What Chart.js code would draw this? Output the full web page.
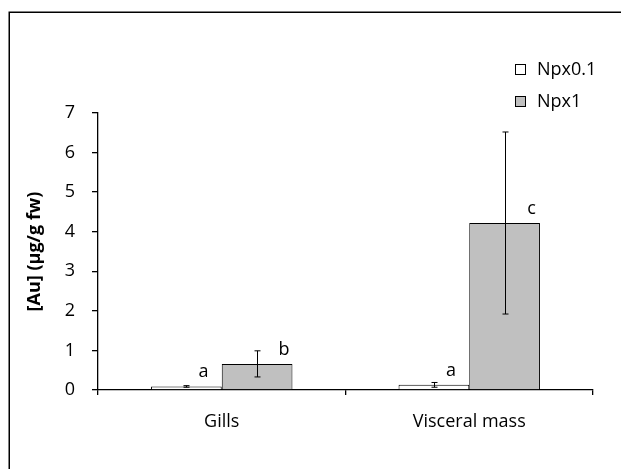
<!DOCTYPE html>
<html><head><meta charset="utf-8">
<script src="https://cdn.jsdelivr.net/npm/chart.js@4"></script>
<style>html,body{margin:0;padding:0;background:#fff;overflow:hidden}canvas{display:block}</style>
</head><body>
<canvas id="c" width="621" height="469"></canvas>
<script>
const categories = ['Gills', 'Visceral mass'];
const seriesNames = ['Npx0.1', 'Npx1'];
const npx01 = [0.09, 0.13];
const npx1 = [0.66, 4.22];
const npx01Err = [0.02, 0.06];
const npx1Err = [0.33, 2.3];
const npx01Letters = ['a', 'a'];
const npx1Letters = ['b', 'c'];
const yTicks = [0, 1, 2, 3, 4, 5, 6, 7];

const FONT = '"Open Sans", "DejaVu Sans", sans-serif';
const errs = [npx01Err, npx1Err];
const letters = [npx01Letters, npx1Letters];
const letterOffsets = [17, 27];

const extras = {
  id: 'extras',
  beforeDraw(chart) {
    const ctx = chart.ctx;
    ctx.save();
    ctx.fillStyle = '#fff';
    ctx.fillRect(0, 0, chart.width, chart.height);
    ctx.strokeStyle = '#000';
    ctx.lineWidth = 1.5;
    ctx.strokeRect(9.25, 12.25, 800, 800);
    ctx.restore();
  },
  afterDatasetsDraw(chart) {
    const ctx = chart.ctx;
    const y = chart.scales.y;
    ctx.save();
    chart.data.datasets.forEach((ds, i) => {
      const meta = chart.getDatasetMeta(i);
      meta.data.forEach((bar, j) => {
        const v = ds.data[j], e = errs[i][j];
        const yt = y.getPixelForValue(v + e), yb = y.getPixelForValue(v - e);
        const x = Math.round(bar.x) + 0.5;
        ctx.strokeStyle = '#000';
        ctx.lineWidth = 1;
        ctx.beginPath();
        ctx.moveTo(x, yt); ctx.lineTo(x, yb);
        ctx.moveTo(x - 3, yt); ctx.lineTo(x + 3, yt);
        ctx.moveTo(x - 3, yb); ctx.lineTo(x + 3, yb);
        ctx.stroke();
        ctx.fillStyle = '#000';
        ctx.font = '18px ' + FONT;
        ctx.textAlign = 'center';
        ctx.textBaseline = 'alphabetic';
        ctx.fillText(letters[i][j], bar.x + letterOffsets[i], bar.y - 9);
      });
    });
    // legend
    chart.data.datasets.forEach((ds, i) => {
      const cy = 70 + i * 32;
      ctx.fillStyle = ds.backgroundColor;
      ctx.fillRect(515.5, cy - 5.5, 10, 10);
      ctx.strokeStyle = '#000';
      ctx.lineWidth = 1;
      ctx.strokeRect(515.5, cy - 5.5, 10, 10);
      ctx.fillStyle = '#000';
      ctx.font = '18px ' + FONT;
      ctx.textAlign = 'left';
      ctx.textBaseline = 'middle';
      ctx.fillText(ds.label, 537, cy);
    });
    ctx.restore();
  }
};

new Chart(document.getElementById('c'), {
  type: 'bar',
  data: {
    labels: categories,
    datasets: [
      { label: seriesNames[0], data: npx01, backgroundColor: '#ffffff', borderColor: '#000', borderWidth: 1 },
      { label: seriesNames[1], data: npx1, backgroundColor: '#c0c0c0', borderColor: '#000', borderWidth: 1 }
    ]
  },
  options: {
    responsive: false,
    animation: false,
    devicePixelRatio: 1,
    categoryPercentage: 1 / 1.75,
    barPercentage: 1,
    layout: { padding: { left: 0, right: 28, top: 113, bottom: 0 } },
    plugins: { legend: { display: false }, tooltip: { enabled: false } },
    scales: {
      x: {
        grid: { offset: true, drawOnChartArea: false, drawTicks: true, tickLength: 5, color: '#000', lineWidth: 1.3 },
        border: { color: '#000', width: 1.3 },
        ticks: { color: '#000', font: { family: FONT, size: 18 }, padding: 16 },
        afterFit(s) { s.height = 79; }
      },
      y: {
        min: 0, max: 7,
        afterBuildTicks(s) { s.ticks = yTicks.map(v => ({ value: v })); },
        grid: { drawOnChartArea: false, drawTicks: true, tickLength: 6, color: '#000', lineWidth: 1.3 },
        border: { color: '#000', width: 1.3 },
        ticks: { color: '#000', font: { family: FONT, size: 18 }, padding: 17 },
        title: { display: true, text: '[Au] (µg/g fw)', color: '#000', font: { family: FONT, size: 18, weight: 'bold' }, padding: { top: 24, bottom: 0 } },
        afterFit(s) { s.width = 98; }
      }
    }
  },
  plugins: [extras]
});
</script>
</body></html>
